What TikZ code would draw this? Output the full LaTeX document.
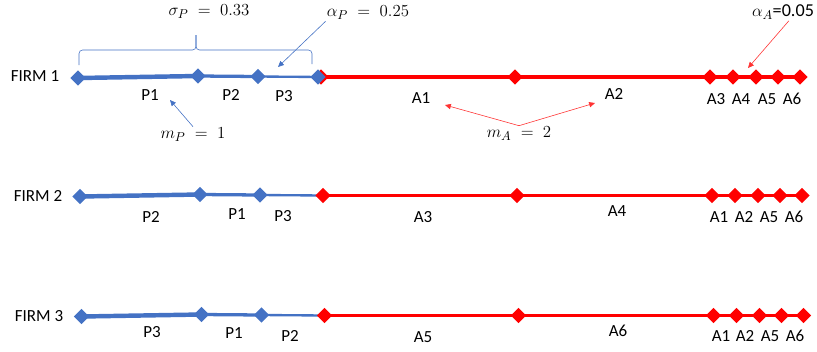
\documentclass[tikz,border=0pt]{standalone}
\usepackage{fontspec}
\setmainfont{Carlito}
\usetikzlibrary{arrows.meta,shapes.geometric,backgrounds}
\definecolor{firmblue}{HTML}{4472C4}
\definecolor{firmred}{HTML}{FF0000}
\tikzset{
  segdot/.style={diamond,draw=none,inner sep=0pt,minimum size=0.46cm},
  pdot/.style={segdot,fill=firmblue},
  adot/.style={segdot,fill=firmred},
  pline/.style={draw=firmblue},
  aline/.style={draw=firmred},
  firmlabel/.style={font=\fontsize{14.5}{17}\selectfont},
  seglabel/.style={font=\fontsize{14.5}{17}\selectfont,inner sep=1pt},
  notelabel/.style={font=\fontsize{15.5}{18}\selectfont,inner sep=1pt},
  pnote/.style={draw=firmblue,line width=0.5pt,-{Triangle[length=5pt,width=4.5pt]}},
  anote/.style={draw=firmred!80,line width=0.5pt,-{Triangle[length=5pt,width=4.5pt]}},
  pbrace/.style={draw=firmblue,line width=0.5pt,rounded corners=3pt},
}

\begin{document}
\begin{tikzpicture}[x=0.03cm,y=-0.03cm]
  \path[use as bounding box] (0,0) rectangle (817,351);
  \foreach \row/\y/\s/\lw in {1/77/0/3.8,2/195.5/2/3.3,3/315.5/3.5/3.3}{
    \foreach \i/\x/\dy in {0/78/1,1/198/-1,2/258/-0.5}
      {\node[pdot] (f\row-p\i) at ({\x+\s},{\y+\dy}) {};}
    \foreach \i/\x in {0/321,1/515,2/710,3/733,4/756,5/778,6/800}
      {\node[adot] (f\row-a\i) at ({\x+\s},\y) {};}
    \begin{pgfonlayer}{background}
      \draw[pline,line width=3.8pt] (f\row-p0.center) -- (f\row-p1.center);
      \draw[pline,line width=2.8pt] (f\row-p1.center) -- (f\row-p2.center);
      \draw[pline,line width=2pt] (f\row-p2.center) -- (f\row-a0.center);
      \foreach \i [count=\j] in {0,...,5}
        {\draw[aline,line width=\lw pt] (f\row-a\i.center) -- (f\row-a\j.center);}
    \end{pgfonlayer}
  }
  \node[pdot] (f1-p3) at (318,77) {};

  \node[firmlabel] (firm1) at (35,76) {FIRM 1};
  \node[seglabel] (l1p1) at (150,95) {P1};
  \node[seglabel] (l1p2) at (231,95) {P2};
  \node[seglabel] (l1p3) at (284,96) {P3};
  \node[seglabel] (l1a1) at (421,98) {A1};
  \node[seglabel] (l1a2) at (614,94) {A2};
  \node[seglabel] (l1a3) at (716,99) {A3};
  \node[seglabel] (l1a4) at (741,99) {A4};
  \node[seglabel] (l1a5) at (767,99) {A5};
  \node[seglabel] (l1a6) at (792,99) {A6};

  \node[firmlabel] (firm2) at (38,196) {FIRM 2};
  \node[seglabel] (l2p2) at (151,217) {P2};
  \node[seglabel] (l2p1) at (237,214) {P1};
  \node[seglabel] (l2p3) at (283,216) {P3};
  \node[seglabel] (l2a3) at (423,217) {A3};
  \node[seglabel] (l2a4) at (617,211) {A4};
  \node[seglabel] (l2a1) at (719,217) {A1};
  \node[seglabel] (l2a2) at (744,217) {A2};
  \node[seglabel] (l2a5) at (769,217) {A5};
  \node[seglabel] (l2a6) at (794,217) {A6};

  \node[firmlabel] (firm3) at (39,316) {FIRM 3};
  \node[seglabel] (l3p3) at (152,332) {P3};
  \node[seglabel] (l3p1) at (234,333) {P1};
  \node[seglabel] (l3p2) at (290,336) {P2};
  \node[seglabel] (l3a5) at (423,337) {A5};
  \node[seglabel] (l3a6) at (618,331) {A6};
  \node[seglabel] (l3a1) at (721,336) {A1};
  \node[seglabel] (l3a2) at (745,336) {A2};
  \node[seglabel] (l3a5b) at (770,336) {A5};
  \node[seglabel] (l3a6b) at (795,336) {A6};

  \node[notelabel] (sigmap) at (209,12) {$\sigma_P \;=\; 0.33$};
  \node[notelabel] (alphap) at (368,13) {$\alpha_P \;=\; 0.25$};
  \node[notelabel] (mp) at (193,135) {$m_P \;=\; 1$};
  \node[notelabel] (alphaa) at (783,12) {$\alpha_A$=0.05};
  \node[notelabel] (ma) at (519,134) {$m_A \;=\; 2$};

  \coordinate (bracel) at (79,65);
  \coordinate (bracetip) at (196,35);
  \coordinate (bracer) at (312,64);
  \draw[pbrace] (bracel) |- (bracetip |- 0,50) -- (bracetip);
  \draw[pbrace] (bracetip) -- (bracetip |- 0,50) -| (bracer);

  \coordinate (alphaptip) at (278,67);
  \coordinate (mptip) at (170,100);
  \coordinate (alphaatip) at (748,68);
  \coordinate (matipl) at (445,105);
  \coordinate (matipr) at (595,103);
  \draw[pnote] (alphap.south west) -- (alphaptip);
  \draw[pnote] (mp.north) -- (mptip);
  \draw[anote] ([xshift=5pt]alphaa.south) -- (alphaatip);
  \draw[anote] (ma.north) -- (matipl);
  \draw[anote] (ma.north) -- (matipr);
\end{tikzpicture}
\end{document}
